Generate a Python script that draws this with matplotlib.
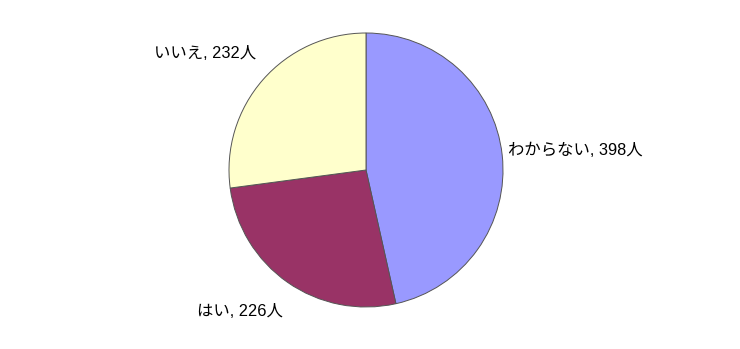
import matplotlib
matplotlib.use('Agg')
import matplotlib.pyplot as plt

plt.rcParams['font.family'] = ['Liberation Sans', 'Noto Sans CJK JP', 'DejaVu Sans']

answers = ['わからない', 'はい', 'いいえ']
counts = [398, 226, 232]
colors = ['#9999FF', '#993366', '#FFFFCC']

fig = plt.figure(figsize=(7.4, 3.49), dpi=100)
# pie centre at about (366, 170) px, radius about 137 px
ax = fig.add_axes([(366 - 137) / 740, (349 - 170 - 137) / 349, 274 / 740, 274 / 349])

ax.pie(counts, colors=colors, startangle=90, counterclock=False, radius=1,
       wedgeprops={'edgecolor': '#555555', 'linewidth': 0.7})
ax.set_xlim(-1, 1)
ax.set_ylim(-1, 1)
ax.axis('off')

# label anchors (in pie radius units) and alignment
label_pos = [(1.04, 0.14, 'left'), (-0.61, -1.03, 'right'), (-0.80, 0.85, 'right')]
for name, n, (x, y, ha) in zip(answers, counts, label_pos):
    ax.text(x, y, f'{name}, {n}人', ha=ha, va='center', fontsize=11.8,
            color='black', clip_on=False)

fig.savefig('out.png', dpi=100)
